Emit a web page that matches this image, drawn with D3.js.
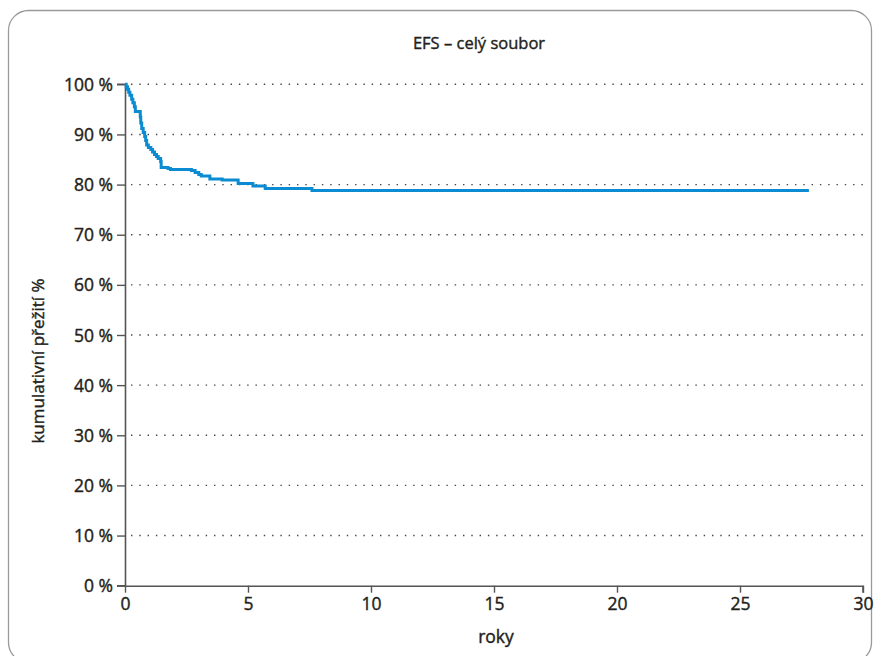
<!DOCTYPE html>
<html>
<head>
<meta charset="utf-8">
<script src="https://cdn.jsdelivr.net/npm/d3@7"></script>
<style>
  html, body { margin: 0; padding: 0; background: #fff; }
  svg { display: block; }
  text { font-family: "Open Sans", Lato, sans-serif; fill: #231f20; stroke: #231f20; stroke-width: 0.4px; }
</style>
</head>
<body>
<svg id="chart" width="877" height="656"></svg>
<script>
// ---- data ----
const title = "EFS – celý soubor";
const xLabel = "roky";
const yLabel = "kumulativní přežití %";
const xTicks = [0, 5, 10, 15, 20, 25, 30];
const yTicks = [0, 10, 20, 30, 40, 50, 60, 70, 80, 90, 100];
// Kaplan–Meier step times (years) and survival (%)
const times = [0, 0.05, 0.1, 0.15, 0.2, 0.27, 0.32, 0.38, 0.42, 0.62, 0.64, 0.68, 0.74, 0.8, 0.84, 0.88, 0.95, 1.05, 1.12, 1.2, 1.28, 1.35, 1.45, 1.47, 1.75, 1.85, 2.7, 2.85, 3.0, 3.1, 3.45, 3.95, 4.6, 5.2, 5.7, 7.6, 27.8];
const survival = [100, 99.5, 99.0, 98.4, 97.8, 97.0, 96.3, 95.5, 94.6, 93.5, 92.3, 91.2, 90.4, 89.6, 88.8, 87.9, 87.4, 87.0, 86.5, 86.0, 85.6, 85.2, 84.6, 83.4, 83.2, 83.0, 82.8, 82.4, 82.0, 81.7, 81.1, 80.9, 80.2, 79.7, 79.2, 78.8, 78.8];

// ---- layout ----
const svg = d3.select("#chart");
const x = d3.scaleLinear().domain([0, 30]).range([125, 863]);
const y = d3.scaleLinear().domain([0, 100]).range([585.7, 84.3]);
const FONT = "'Open Sans', Lato, sans-serif";

// frame
svg.append("rect")
  .attr("x", 8.5).attr("y", 10.5)
  .attr("width", 863).attr("height", 652)
  .attr("rx", 20).attr("ry", 20)
  .attr("fill", "none")
  .attr("stroke", "#9a9a9a")
  .attr("stroke-width", 1.3);

// gridlines (dotted)
svg.append("g")
  .selectAll("line")
  .data(yTicks.filter(d => d > 0))
  .join("line")
  .attr("x1", x(0) + 6).attr("x2", x(30))
  .attr("y1", d => y(d)).attr("y2", d => y(d))
  .attr("stroke", "#444")
  .attr("stroke-width", 1.4)
  .attr("stroke-dasharray", "1.4 6.9");

// axes
const xAxis = d3.axisBottom(x).tickValues(xTicks).tickSize(7).tickPadding(5).tickFormat(d3.format("d"));
const yAxis = d3.axisLeft(y).tickValues(yTicks).tickSize(8).tickPadding(4).tickFormat(d => d + " %");

const gx = svg.append("g").attr("transform", `translate(0,${y(0)})`).call(xAxis);
const gy = svg.append("g").attr("transform", `translate(${x(0)},0)`).call(yAxis);

[gx, gy].forEach(g => {
  g.select(".domain").attr("stroke", "#555").attr("stroke-width", 1.6);
  g.selectAll(".tick line").attr("stroke", "#555").attr("stroke-width", 1.4);
  g.selectAll(".tick text").style("font-family", FONT)
    .style("font-size", "17.5px").attr("fill", "#231f20")
    .attr("stroke", "#231f20").attr("stroke-width", 0.4);
});
gx.select(".domain").attr("d", `M${x(0)},0.5H${x(30)}V7`);
gy.select(".domain").attr("d", `M-8,${y(0)}H0.5V${y(100)}H-8`);
gy.selectAll(".tick text").attr("dy", "0.35em");

// curve
const pts = times.map((t, i) => [t, survival[i]]);
const line = d3.line().x(d => x(d[0])).y(d => y(d[1])).curve(d3.curveStepAfter);
svg.append("path")
  .datum(pts)
  .attr("d", line)
  .attr("fill", "none")
  .attr("stroke", "#0a8bd2")
  .attr("stroke-width", 3)
  .attr("stroke-linejoin", "miter");

// labels
svg.append("text").attr("x", 479).attr("y", 49)
  .attr("text-anchor", "middle").style("font-size", "16.5px").text(title);
svg.append("text").attr("x", 496).attr("y", 643)
  .attr("text-anchor", "middle").style("font-size", "17.5px").text(xLabel);
svg.append("text")
  .attr("transform", "translate(44,361) rotate(-90)")
  .attr("text-anchor", "middle").style("font-size", "17px").text(yLabel);
</script>
</body>
</html>
